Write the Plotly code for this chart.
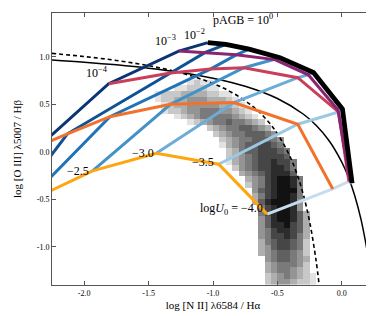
import plotly.graph_objects as go

# ---------------- data ----------------
LOGU = [-1.0, -1.5, -2.0, -2.5, -3.0, -3.5, -4.0]

# model grid: one list per pAGB track, ordered by LOGU
GOLD_X = [-2.80, -2.60, -2.45, -1.935, -1.44, -0.956, -0.58]
GOLD_Y = [-0.85, -0.65, -0.53, -0.20, -0.015, -0.13, -0.655]
ORANGE_X = [-2.34, -2.13, -1.80, -1.33, -0.838, -0.342, -0.07]
ORANGE_Y = [0.07, 0.19, 0.37, 0.50, 0.518, 0.29, -0.39]
CRIMSON_X = [-1.81, -1.33, -1.02, -0.76, -0.342, -0.025, 0.055]
CRIMSON_Y = [0.717, 0.83, 0.87, 0.885, 0.78, 0.42, -0.31]
PURPLE_X = [-1.266, -1.06, -0.82, -0.52, -0.26, -0.03, 0.065]
PURPLE_Y = [1.06, 1.045, 1.02, 0.97, 0.81, 0.44, -0.32]
BLACK_X = [-1.04, -0.90, -0.72, -0.48, -0.22, 0.005, 0.08]
BLACK_Y = [1.148, 1.13, 1.08, 0.99, 0.835, 0.45, -0.33]

# demarcation curves
KEWLEY_X = [-2.25, -2.0, -1.75, -1.5, -1.25, -1.0, -0.75, -0.5, -0.3, -0.2, -0.1, 0.0, 0.05, 0.1, 0.15, 0.2, 0.235]
KEWLEY_Y = [0.966, 0.943, 0.915, 0.880, 0.835, 0.775, 0.690, 0.561, 0.398, 0.280, 0.120, -0.108, -0.262, -0.459, -0.716, -1.069, -1.406]
KAUFF_X = [-2.25, -2.0, -1.75, -1.5, -1.25, -1.0, -0.85, -0.7, -0.6, -0.5, -0.4, -0.35, -0.3, -0.25, -0.2, -0.176]
KAUFF_Y = [1.035, 1.002, 0.961, 0.906, 0.831, 0.719, 0.622, 0.487, 0.362, 0.191, -0.056, -0.225, -0.443, -0.733, -1.14, -1.399]

# 2D histogram of galaxies: rows top->bottom, (first column, intensities 1-9)
HIST_X0, HIST_DX = -1.475, 0.05
HIST_Y_TOP, HIST_DY = 0.73, 0.06
HIST_NCOL = 27
HIST_ROWS = [
    (6, "1211"),
    (4, "1122211"),
    (1, "122233332211"),
    (1, "1223344433321"),
    (2, "1233444443321"),
    (2, "12234455544321"),
    (4, "1234555554321"),
    (6, "123455655432"),
    (9, "2345566543"),
    (10, "2345566654"),
    (11, "2345566654"),
    (11, "1345667765"),
    (12, "2356677765"),
    (12, "2345677776"),
    (12, "13456778775"),
    (13, "2456778875"),
    (14, "345678886"),
    (15, "345789985"),
    (15, "245789985"),
    (16, "46789995"),
    (16, "35789985"),
    (16, "36899984"),
    (17, "5789984"),
    (17, "57899863"),
    (17, "46899863"),
    (17, "46889763"),
    (17, "45788763"),
    (17, "45778753"),
    (17, "35677652"),
    (17, "34677652"),
    (17, "34566542"),
    (18, "4566543"),
    (18, "3455542"),
    (18, "3455432"),
    (18, "23454321"),
    (18, "23443221"),
]

X_TICKS = [-2.0, -1.5, -1.0, -0.5, 0.0]
X_TICKTEXT = ["-2.0", "-1.5", "-1.0", "-0.5", "0.0"]
Y_TICKS = [-1.0, -0.5, 0.0, 0.5, 1.0]
Y_TICKTEXT = ["-1.0", "-0.5", "0.0", "0.5", "1.0"]

# ---------------- styles ----------------
BLUES = ["#0c3472", "#0d5297", "#2272b6", "#4392c7", "#6badd7", "#9bc8e3", "#c8dcee"]
TRACKS = [
    (GOLD_X, GOLD_Y, "#fea50f", 3),
    (ORANGE_X, ORANGE_Y, "#f1722b", 3),
    (CRIMSON_X, CRIMSON_Y, "#c93f59", 3),
    (PURPLE_X, PURPLE_Y, "#8a2573", 3),
    (BLACK_X, BLACK_Y, "#000000", 4.8),
]
SERIF = "Liberation Serif, DejaVu Serif, serif"

fig = go.Figure()

# histogram
z = []
for start, s in reversed(HIST_ROWS):
    row = [None] * HIST_NCOL
    for i, ch in enumerate(s):
        v = int(ch)
        row[start + i] = v if v > 0 else None
    z.append(row)
y0 = HIST_Y_TOP - HIST_DY * (len(HIST_ROWS) - 1)
fig.add_trace(go.Heatmap(
    z=z, x0=HIST_X0, dx=HIST_DX, y0=y0, dy=HIST_DY,
    colorscale=[[0, "#e2e2e2"], [1, "#121212"]], zmin=1, zmax=9,
    showscale=False, hoverinfo="skip"))

# demarcation curves
fig.add_trace(go.Scatter(x=KEWLEY_X, y=KEWLEY_Y, mode="lines",
                         line=dict(color="black", width=1.5, shape="spline"), hoverinfo="skip"))
fig.add_trace(go.Scatter(x=KAUFF_X, y=KAUFF_Y, mode="lines",
                         line=dict(color="black", width=1.6, dash="4px,3px", shape="spline"), hoverinfo="skip"))

# constant-U lines
for j, u in enumerate(LOGU):
    xs = [t[0][j] for t in TRACKS]
    ys = [t[1][j] for t in TRACKS]
    fig.add_trace(go.Scatter(x=xs, y=ys, mode="lines",
                             line=dict(color=BLUES[j], width=3), hoverinfo="skip"))

# constant-pAGB lines
for xs, ys, col, w in TRACKS:
    fig.add_trace(go.Scatter(x=xs, y=ys, mode="lines",
                             line=dict(color=col, width=w), hoverinfo="skip"))

labels = [
    (-1.90, 0.83, "10<sup>−4</sup>", "center"),
    (-1.37, 1.17, "10<sup>−3</sup>", "center"),
    (-1.14, 1.23, "10<sup>−2</sup>", "center"),
    (-0.77, 1.39, "pAGB = 10<sup>0</sup>", "center"),
    (-2.045, -0.2, "−2.5", "center"),
    (-1.54, -0.01, "−3.0", "center"),
    (-1.077, -0.11, "−3.5", "center"),
    (-0.595, -0.60, "log<i>U</i><sub>0</sub> = −4.0", "right"),
]
for x, y, t, anc in labels:
    fig.add_annotation(x=x, y=y, text=t, showarrow=False, xanchor=anc,
                       font=dict(family=SERIF, size=12, color="black"))

axis_common = dict(showgrid=False, zeroline=False, showline=True, linecolor="#555555",
                   linewidth=1, mirror="ticks", ticks="inside", ticklen=4, tickwidth=1,
                   tickcolor="#555555", tickfont=dict(family=SERIF, size=8, color="black"))
fig.update_xaxes(range=[-2.25, 0.25], tickvals=X_TICKS, ticktext=X_TICKTEXT,
                 title=dict(text="log [N II] λ6584 / Hα", font=dict(family=SERIF, size=11, color="black"),
                            standoff=4), **axis_common)
fig.update_yaxes(range=[-1.4, 1.46], tickvals=Y_TICKS, ticktext=Y_TICKTEXT,
                 title=dict(text="log [O III] λ5007 / Hβ", font=dict(family=SERIF, size=11, color="black"),
                            standoff=12), **axis_common)
fig.update_layout(width=374, height=316, margin=dict(l=44, r=8, t=5, b=39),
                  plot_bgcolor="white", paper_bgcolor="white", showlegend=False)

fig.write_html("out.html")
